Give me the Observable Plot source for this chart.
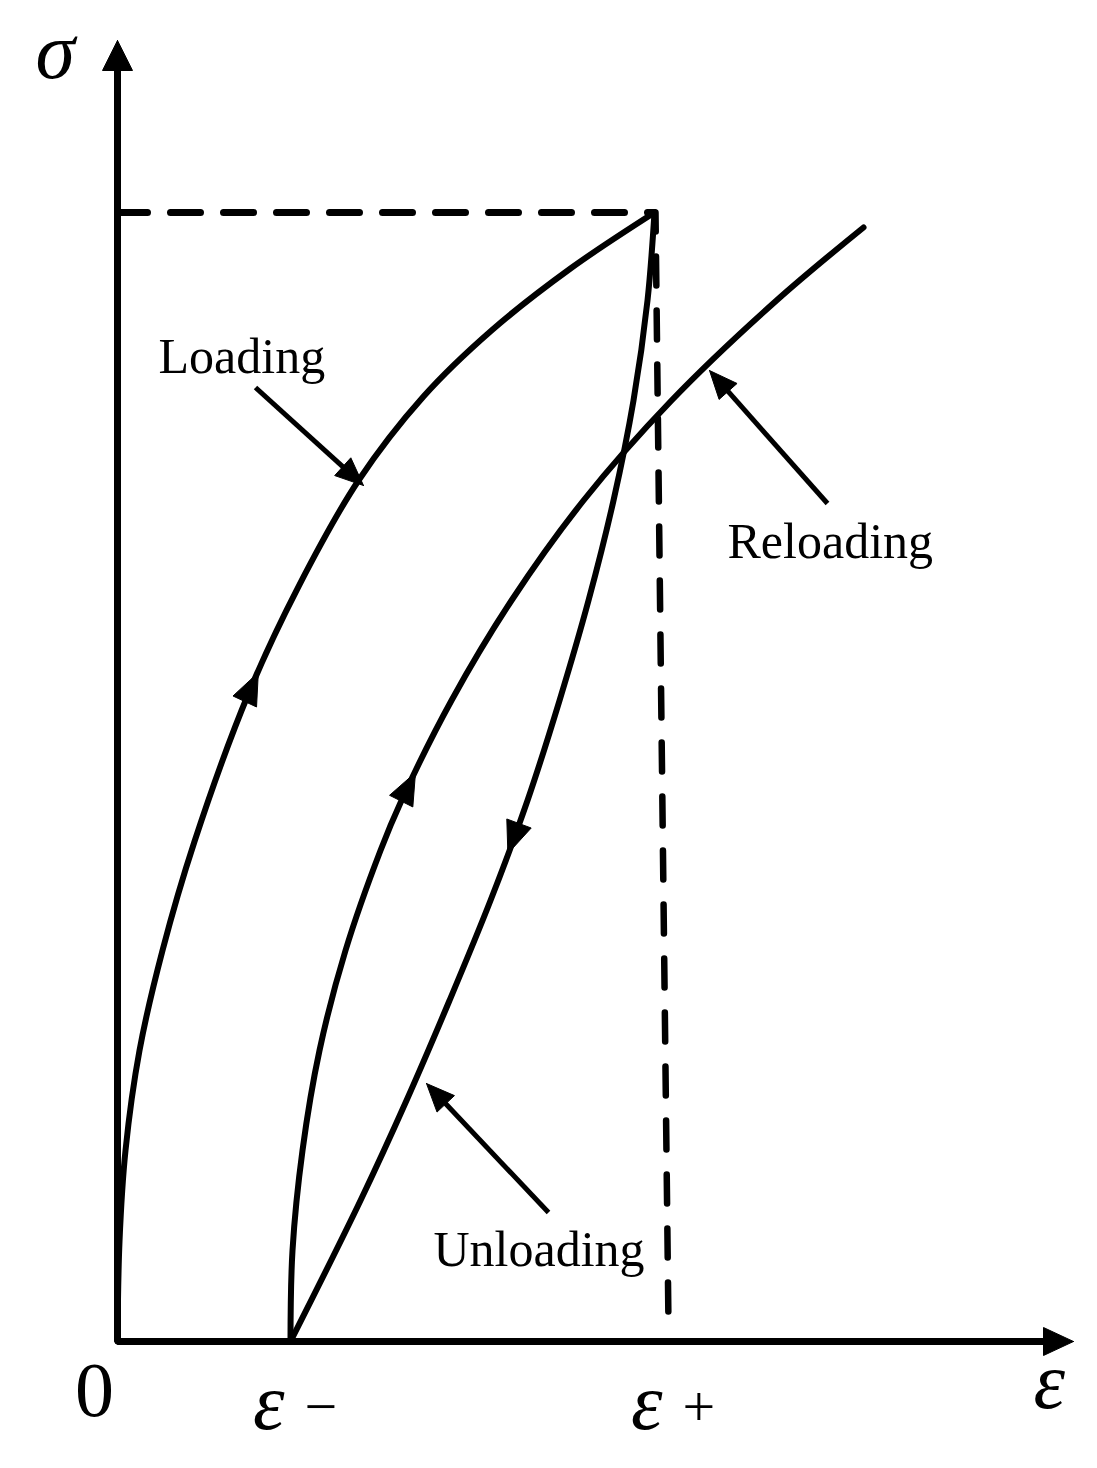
<!DOCTYPE html>
<html>
<head>
<meta charset="utf-8">
<script src="https://cdn.jsdelivr.net/npm/d3@7"></script>
<script src="https://cdn.jsdelivr.net/npm/@observablehq/plot@0.6"></script>
<style>
  html, body { margin: 0; padding: 0; background: #ffffff; }
  svg { display: block; background: #ffffff; }
</style>
</head>
<body>
<div id="chart"></div>
<script>
// ---------- data (schematic units: ε to the right, σ upward) ----------
const xMax = 956;          // end of the ε axis
const yMax = 1301;         // end of the σ axis
const epsMinus = 173;      // residual strain ε−
const epsPlus = 551;       // strain ε+ (foot of dashed line)
const peak = [537, 1129];  // unloading point

const loadingCurve = [[0,0],[2,100],[8,191],[22,291],[45,391],[77,500],[131,648],[181,755],[241,861],[306,945],[374,1011],[453,1073],[537,1129]];
const unloadingCurve = [[537,1129],[530,1041],[516,941],[496,841],[471,741],[442,641],[410,541],[373,441],[332,341],[289,241],[243,141],[173,0]];
const reloadingCurve = [[173,0],[175,91],[185,191],[202,291],[228,391],[263,491],[284,541],[334,641],[394,741],[466,841],[554,941],[659,1041],[746,1114]];
const dashedTop = [[0,1129],[537,1129]];
const dashedDown = [[538,1129],[551,16]];

const curveNames = ["loading", "reloading", "unloading"];
const curveArrowY = [669, 569, 488];   // where the direction arrows sit on each curve

const annotationLabels = ["Loading", "Reloading", "Unloading"];
const annotationText = [[41,969],[610,784],[316,76]];
const annotationFrom = [[138,954],[710,838],[431,129]];
const annotationTo = [[246,856],[592,971],[309,258]];

const tickValues = [epsMinus, epsPlus];
const tickSymbols = ["ε", "ε"];
const tickSigns = ["−", "+"];

// ---------- helpers ----------
const curves = {loading: loadingCurve, reloading: reloadingCurve, unloading: unloadingCurve};
const X = d => d[0], Y = d => d[1];

function along(curve, y) {
  for (let i = 0; i < curve.length - 1; i++) {
    const [x0, y0] = curve[i], [x1, y1] = curve[i + 1];
    if ((y - y0) * (y - y1) <= 0 && y0 !== y1) {
      const t = (y - y0) / (y1 - y0);
      const dx = x1 - x0, dy = y1 - y0, n = Math.hypot(dx, dy);
      return {tip: [x0 + t * dx, y], u: [dx / n, dy / n]};
    }
  }
}
function triangle(id, tip, u, L, w) {
  const b = [tip[0] - L * u[0], tip[1] - L * u[1]];
  const nx = -u[1], ny = u[0];
  return [
    {id, x: tip[0], y: tip[1]},
    {id, x: b[0] + w * nx, y: b[1] + w * ny},
    {id, x: b[0] - w * nx, y: b[1] - w * ny},
    {id, x: tip[0], y: tip[1]}
  ];
}

// arrow heads (scale is 1 unit = 1 px on both axes)
let heads = [];
heads = heads.concat(triangle("yaxis", [0, yMax], [0, 1], 30, 15));
heads = heads.concat(triangle("xaxis", [xMax, 0], [1, 0], 30, 14));
curveNames.forEach((name, i) => {
  const p = along(curves[name], curveArrowY[i]);
  heads = heads.concat(triangle("c" + i, p.tip, p.u, 32, 13));
});
const shafts = [];
annotationLabels.forEach((lab, i) => {
  const [fx, fy] = annotationFrom[i], [tx, ty] = annotationTo[i];
  const n = Math.hypot(tx - fx, ty - fy);
  const u = [(tx - fx) / n, (ty - fy) / n];
  heads = heads.concat(triangle("a" + i, [tx, ty], u, 28, 12));
  shafts.push({x1: fx, y1: fy, x2: tx - 18 * u[0], y2: ty - 18 * u[1]});
});

const axisPath = [[0, yMax - 20], [0, 0], [xMax - 20, 0]];
const serif = "Liberation Serif, Times New Roman, serif";

const chart = Plot.plot({
  width: 1097,
  height: 1468,
  x: {domain: [0, xMax], range: [117, 117 + xMax], axis: null},
  y: {domain: [0, yMax], range: [1341, 1341 - yMax], axis: null},
  style: {background: "#ffffff", color: "#000000"},
  marks: [
    Plot.line(dashedTop, {x: X, y: Y, stroke: "#000", strokeWidth: 7, strokeDasharray: "30,23"}),
    Plot.line(dashedDown, {x: X, y: Y, stroke: "#000", strokeWidth: 6.5, strokeDasharray: "29,25", strokeDashoffset: 10}),
    Plot.line(loadingCurve, {x: X, y: Y, curve: "catmull-rom", stroke: "#000", strokeWidth: 6}),
    Plot.line(reloadingCurve, {x: X, y: Y, curve: "catmull-rom", stroke: "#000", strokeWidth: 6}),
    Plot.line(unloadingCurve, {x: X, y: Y, curve: "catmull-rom", stroke: "#000", strokeWidth: 6}),
    Plot.line(axisPath, {x: X, y: Y, stroke: "#000", strokeWidth: 7, strokeLinejoin: "miter", strokeLinecap: "square"}),
    Plot.link(shafts, {x1: "x1", y1: "y1", x2: "x2", y2: "y2", stroke: "#000", strokeWidth: 5}),
    Plot.line(heads, {x: "x", y: "y", z: "id", fill: "#000", stroke: "#000", strokeWidth: 1, strokeLinejoin: "miter"}),
    // annotation labels
    Plot.text(annotationLabels, {
      x: (d, i) => annotationText[i][0], y: (d, i) => annotationText[i][1], text: d => d,
      textAnchor: "start", lineAnchor: "bottom", fontSize: 50, fontFamily: serif, fill: "#000"
    }),
    // axis titles
    Plot.text(["σ"], {x: -82, y: 1264, text: d => d, textAnchor: "start", lineAnchor: "bottom",
      fontSize: 80, fontStyle: "italic", fontFamily: serif, fill: "#000"}),
    Plot.text(["ε"], {x: 916, y: -66, text: d => d, textAnchor: "start", lineAnchor: "bottom",
      fontSize: 80, fontStyle: "italic", fontFamily: serif, fill: "#000"}),
    // tick labels
    Plot.text(["0"], {x: 0, y: -74, text: d => d, dx: -23, textAnchor: "middle", lineAnchor: "bottom",
      fontSize: 78, fontFamily: serif, fill: "#000"}),
    Plot.text(tickValues, {x: d => d, y: -87, text: (d, i) => tickSymbols[i], dx: -6, textAnchor: "end", lineAnchor: "bottom",
      fontSize: 80, fontStyle: "italic", fontFamily: serif, fill: "#000"}),
    Plot.text(tickValues, {x: d => d, y: -84, text: (d, i) => tickSigns[i], dx: 14, textAnchor: "start", lineAnchor: "bottom",
      fontSize: 58, fontFamily: serif, fill: "#000"})
  ]
});
document.getElementById("chart").appendChild(chart);
</script>
</body>
</html>
